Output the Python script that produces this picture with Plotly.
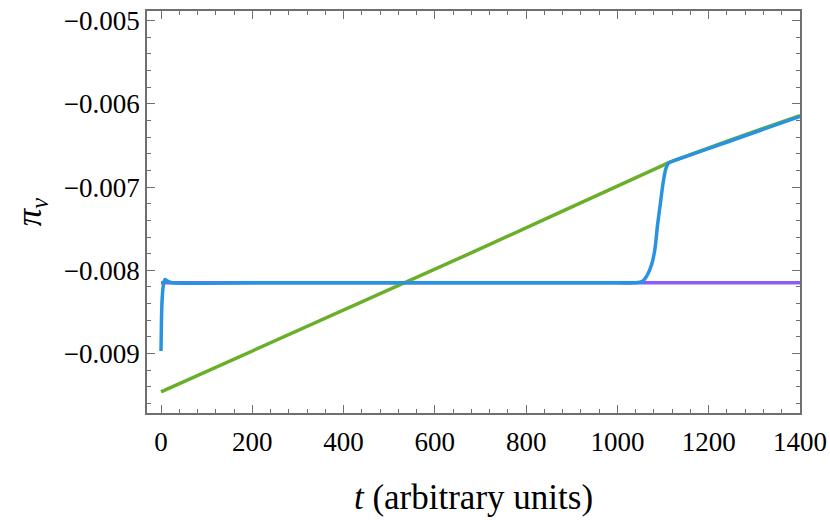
import plotly.graph_objects as go

# curva morada: constante
t_morado = [0, 1400]
pi_morado = [-0.00815, -0.00815]

# curva verde
t_verde = [0, 200, 400, 535, 700, 875, 995, 1115, 1250, 1400]
pi_verde = [-0.00946, -0.00897, -0.00848, -0.00815, -0.00774, -0.00730, -0.00700, -0.00670, -0.00643, -0.00614]

# curva azul
t_azul = [0, 1, 2, 3, 4, 6, 9, 14, 25, 200, 600, 1000, 1040, 1055, 1065, 1075, 1082, 1088,
          1094, 1100, 1106, 1112, 1120, 1250, 1400]
pi_azul = [-0.00897, -0.00860, -0.00840, -0.00830, -0.00823, -0.00815, -0.00811, -0.00813,
           -0.00815, -0.00815, -0.00815, -0.00815, -0.00815, -0.00813, -0.00806, -0.00793,
           -0.00775, -0.00745, -0.00720, -0.00695, -0.00678, -0.00671, -0.00669, -0.00644,
           -0.00615]

y_ticks = [-0.009, -0.008, -0.007, -0.006, -0.005]
y_labels = ["\u22120.009", "\u22120.008", "\u22120.007", "\u22120.006", "\u22120.005"]
x_ticks = [0, 200, 400, 600, 800, 1000, 1200, 1400]

fig = go.Figure()
fig.add_trace(go.Scatter(x=t_morado, y=pi_morado, mode="lines",
                         line=dict(color="#8b5cf6", width=3.5)))
fig.add_trace(go.Scatter(x=t_verde, y=pi_verde, mode="lines",
                         line=dict(color="#6aaf2a", width=3.5)))
fig.add_trace(go.Scatter(x=t_azul, y=pi_azul, mode="lines",
                         line=dict(color="#2893e0", width=3.5, shape="spline", smoothing=0.6)))

eje = dict(
    showgrid=False, zeroline=False, showline=True, linecolor="#707070", linewidth=1.5,
    mirror="ticks", ticks="inside", ticklen=8, tickwidth=1.2, tickcolor="#707070",
    tickfont=dict(family="Liberation Serif", size=27, color="black"),
    automargin=False, ticklabeloverflow="allow",
)

fig.update_layout(
    width=830, height=528,
    plot_bgcolor="white", paper_bgcolor="white",
    showlegend=False,
    margin=dict(l=147, r=30, t=11, b=115),
    xaxis=dict(
        eje, range=[-30.7, 1400], tickvals=x_ticks, ticklabelstandoff=4,
        minor=dict(dtick=40, ticks="inside", ticklen=4, tickcolor="#707070", tickwidth=1),
        title=dict(text="<i>t</i> (arbitrary units)", standoff=28,
                   font=dict(family="Liberation Serif", size=35, color="black")),
    ),
    yaxis=dict(
        eje, range=[-0.009714, -0.004884], tickvals=y_ticks, ticktext=y_labels,
        minor=dict(dtick=0.0002, tick0=-0.005, ticks="inside", ticklen=4,
                   tickcolor="#707070", tickwidth=1),
        title=dict(text="<i>\u03c0<sub>v</sub></i>", standoff=12,
                   font=dict(family="Liberation Serif", size=35, color="black")),
    ),
)

# quitar el margen por defecto del body para que la figura quede en (0, 0)
fig.write_html("out.html", config={"displayModeBar": False},
               post_script="document.body.style.margin='0';")
